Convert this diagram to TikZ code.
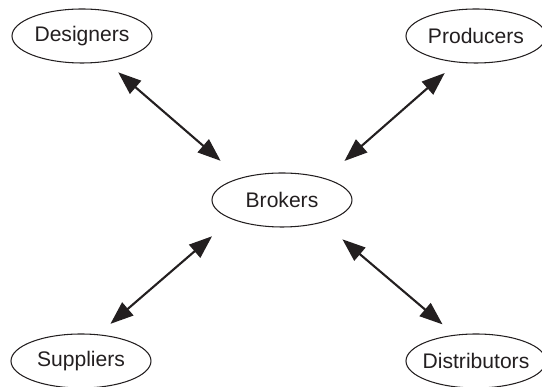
\documentclass[tikz,border=0pt]{standalone}
\usepackage{fontspec}
\setmainfont{Liberation Sans}
\usetikzlibrary{shapes.geometric, positioning, arrows.meta}
\definecolor{ink}{HTML}{231F20}
\tikzstyle{party} = [ellipse, minimum width=2.8cm, minimum height=1.08cm, inner xsep=-0.15cm, inner ysep=0pt, text centered, draw=ink, text=ink, line width=0.6pt, font=\fontsize{12}{14}\selectfont]
\tikzstyle{arrow} = [ink, line width=1.2pt, <->, >={Triangle[length=0.46cm, width=0.34cm]}, shorten <=0.32cm, shorten >=0.52cm]

\begin{document}
\begin{tikzpicture}[node distance=2cm, on grid]
    \useasboundingbox (-5.64,-3.74) rectangle (5.2,4.0);
    \node (brk) [party] {Brokers};
    \node (des) [party, above left=3.28cm and 4cm of brk] {Designers};
    \node (pro) [party, above right=3.28cm and 3.88cm of brk] {Producers};
    \node (sup) [party, below left=3.22cm and 4.02cm of brk] {Suppliers};
    \node (dis) [party, below right=3.22cm and 3.88cm of brk] {Distributors};
    \draw[arrow] (des.-47)--(brk.152);
    \draw[arrow] (pro.-126)--(brk.27);
    \draw[arrow] (sup.57)--(brk.201);
    \draw[arrow] (dis.129)--(brk.-29);
\end{tikzpicture}
\end{document}
